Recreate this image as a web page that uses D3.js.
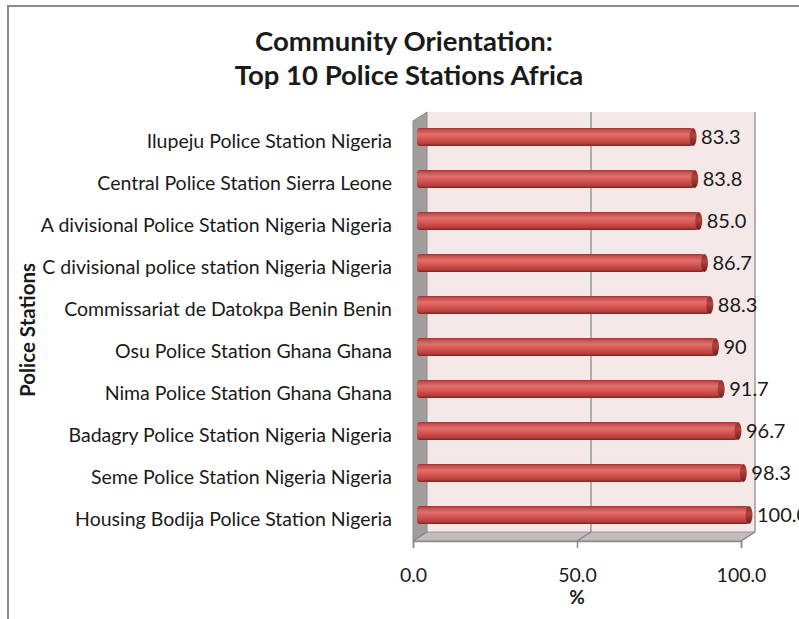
<!DOCTYPE html>
<html>
<head>
<meta charset="utf-8">
<script src="https://cdn.jsdelivr.net/npm/d3@7"></script>
<style>
  html, body { margin: 0; padding: 0; background: #ffffff; }
  svg { display: block; }
  text { font-family: Lato, "Open Sans", sans-serif; fill: #1a1a1a; }
</style>
</head>
<body>
<svg id="chart" width="799" height="619"></svg>
<script>
const categories = [
  "Ilupeju Police Station Nigeria",
  "Central Police Station Sierra Leone",
  "A divisional Police Station Nigeria Nigeria",
  "C divisional police station Nigeria Nigeria",
  "Commissariat de Datokpa Benin Benin",
  "Osu Police Station Ghana Ghana",
  "Nima Police Station Ghana Ghana",
  "Badagry Police Station Nigeria Nigeria",
  "Seme Police Station Nigeria Nigeria",
  "Housing Bodija Police Station Nigeria"
];
const values = [83.3, 83.8, 85.0, 86.7, 88.3, 90, 91.7, 96.7, 98.3, 100.0];
const valueLabels = ["83.3", "83.8", "85.0", "86.7", "88.3", "90", "91.7", "96.7", "98.3", "100.0"];
const tickValues = [0, 50, 100];
const tickLabels = ["0.0", "50.0", "100.0"];
const titleLines = ["Community Orientation:", "Top 10 Police Stations Africa"];
const xTitle = "%";
const yTitle = "Police Stations";

const svg = d3.select("#chart");

// chart border
svg.append("rect").attr("x", 8).attr("y", 6).attr("width", 820).attr("height", 640)
  .attr("fill", "#ffffff").attr("stroke", "#8a8a8a").attr("stroke-width", 2);

// 3D geometry
const dx = 14, dy = -9;
const x = d3.scaleLinear().domain([0, 100]).range([413, 741]);          // front plane
const xBar = d3.scaleLinear().domain([0, 100]).range([417, 752]);       // bar depth plane
const y = d3.scaleBand().domain(categories).range([116, 536]).padding(0);
const floorY = 541, topY = 121;

const defs = svg.append("defs");
const grad = defs.append("linearGradient").attr("id", "cyl").attr("x1", 0).attr("y1", 0).attr("x2", 0).attr("y2", 1);
[[0, "#9e3431"], [0.12, "#c8504c"], [0.35, "#e0706b"], [0.55, "#d85a55"], [0.85, "#b8403c"], [1, "#7e2422"]]
  .forEach(([o, c]) => grad.append("stop").attr("offset", o).attr("stop-color", c));
const capGrad = defs.append("linearGradient").attr("id", "cap").attr("x1", 0).attr("y1", 0).attr("x2", 0).attr("y2", 1);
[[0, "#8a2c2a"], [0.4, "#b24340"], [1, "#6e1e1c"]]
  .forEach(([o, c]) => capGrad.append("stop").attr("offset", o).attr("stop-color", c));

// back wall
svg.append("polygon")
  .attr("points", [[x(0) + dx, topY + dy], [x(100) + dx, topY + dy], [x(100) + dx, floorY + dy], [x(0) + dx, floorY + dy]].join(" "))
  .attr("fill", "#f4e8e8");
// side wall
svg.append("polygon")
  .attr("points", [[x(0), topY], [x(0) + dx, topY + dy], [x(0) + dx, floorY + dy], [x(0), floorY]].join(" "))
  .attr("fill", "#a29d9d").attr("stroke", "#8c8888").attr("stroke-width", 1);
// floor
svg.append("polygon")
  .attr("points", [[x(0), floorY], [x(0) + dx, floorY + dy], [x(100) + dx, floorY + dy], [x(100), floorY]].join(" "))
  .attr("fill", "#c2bbbb").attr("stroke", "#9a9595").attr("stroke-width", 1);

// gridlines on back wall + floor
tickValues.forEach(t => {
  if (t > 0) {
    svg.append("line").attr("x1", x(t) + dx).attr("x2", x(t) + dx).attr("y1", topY + dy).attr("y2", floorY + dy)
      .attr("stroke", "#858585").attr("stroke-width", 1.2);
  }
  svg.append("line").attr("x1", x(t)).attr("y1", floorY).attr("x2", x(t) + dx).attr("y2", floorY + dy)
    .attr("stroke", "#858585").attr("stroke-width", 1.2);
});

// x axis (front)
const xAxis = d3.axisBottom(x).tickValues(tickValues).tickSize(7).tickFormat((d, i) => tickLabels[i]);
const gx = svg.append("g").attr("transform", `translate(0,${floorY})`).call(xAxis);
gx.select(".domain").attr("stroke", "#8a8a8a").attr("stroke-width", 1.5);
gx.selectAll(".tick line").attr("stroke", "#8a8a8a").attr("stroke-width", 1.5);
gx.selectAll(".tick text").attr("font-size", 19.5).attr("dy", 0).attr("y", 36)
  .attr("dominant-baseline", "middle")
  .style("font-family", "Lato, sans-serif").attr("fill", "#1a1a1a");

// bars
const barH = 18;
const bars = svg.append("g");
categories.forEach((c, i) => {
  const cy = y(c) + y.bandwidth() / 2;
  const x0 = xBar(0), x1 = xBar(values[i]);
  bars.append("rect").attr("x", x0).attr("y", cy - barH / 2).attr("width", x1 - x0 - 3).attr("height", barH)
    .attr("rx", 3).attr("fill", "url(#cyl)");
  bars.append("ellipse").attr("cx", x1 - 3).attr("cy", cy).attr("rx", 3.5).attr("ry", barH / 2)
    .attr("fill", "url(#cap)");
  // value label
  svg.append("text").attr("x", x1 + 5).attr("y", cy + 2).attr("dominant-baseline", "middle")
    .attr("font-size", 20).text(valueLabels[i]);
  // category label
  svg.append("text").attr("x", 392).attr("y", cy + 6).attr("dominant-baseline", "middle")
    .attr("text-anchor", "end").attr("font-size", 19.5).text(c);
});

// titles
svg.append("text").attr("x", 404).attr("y", 44).attr("text-anchor", "middle").attr("dominant-baseline", "middle")
  .attr("font-size", 27.5).attr("font-weight", "bold").text(titleLines[0]);
svg.append("text").attr("x", 409).attr("y", 78).attr("text-anchor", "middle").attr("dominant-baseline", "middle")
  .attr("font-size", 27.5).attr("font-weight", "bold").text(titleLines[1]);

svg.append("text").attr("x", x(50)).attr("y", 599).attr("text-anchor", "middle").attr("dominant-baseline", "middle")
  .attr("font-size", 19).attr("font-weight", "bold").text(xTitle);

svg.append("text").attr("transform", "translate(30,330) rotate(-90)").attr("text-anchor", "middle")
  .attr("dominant-baseline", "middle").attr("font-size", 20.5).attr("font-weight", "bold").text(yTitle);
</script>
</body>
</html>
